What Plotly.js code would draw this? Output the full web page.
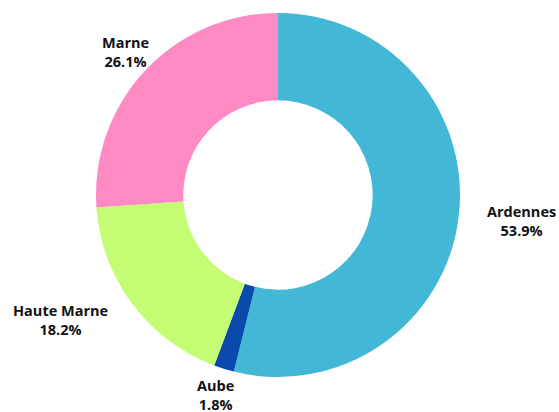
<!DOCTYPE html>
<html>
<head>
<meta charset="utf-8">
<script src="https://cdn.plot.ly/plotly-3.0.1.min.js"></script>
<style>html,body{margin:0;padding:0;background:#fff;}#chart{width:559px;height:412px;}</style>
</head>
<body>
<div id="chart"></div>
<script>
const labels = ["Ardennes", "Aube", "Haute Marne", "Marne"];
const values = [53.9, 1.8, 18.2, 26.1];
const colors = ["#42b7d6", "#0a4aad", "#c4fd74", "#fe8ac4"];

const W = 559, H = 412;
const M = {l: 0, r: 3, t: 13, b: 35};
const plotW = W - M.l - M.r, plotH = H - M.t - M.b;
const cx = M.l + plotW / 2, cy = M.t + plotH / 2;
const R = Math.min(plotW, plotH) / 2;
const labelR = R + 27;

const total = values.reduce((a, b) => a + b, 0);
let cum = 0;
const annotations = values.map((v, i) => {
  const mid = (cum + v / 2) / total * 2 * Math.PI;
  cum += v;
  const s = Math.sin(mid), c = Math.cos(mid);
  const px = cx + labelR * s;
  const py = cy - labelR * c;
  let xanchor = "center";
  if (Math.abs(s) >= 0.75) xanchor = s > 0 ? "left" : "right";
  return {
    xref: "paper", yref: "paper",
    x: (px - M.l) / plotW,
    y: 1 - (py - M.t) / plotH,
    xanchor: xanchor, yanchor: "middle",
    showarrow: false,
    align: "center",
    text: "<b>" + labels[i] + "</b><br><b>" + v.toFixed(1) + "%</b>",
    font: {family: "Open Sans", size: 14.5, color: "#111"}
  };
});

const trace = {
  type: "pie",
  labels: labels,
  values: values,
  hole: 0.52,
  sort: false,
  direction: "clockwise",
  rotation: 0,
  marker: {colors: colors, line: {width: 0}},
  textinfo: "none",
  hoverinfo: "none",
  showlegend: false
};

Plotly.newPlot("chart", [trace], {
  width: W, height: H,
  margin: Object.assign({autoexpand: false}, M),
  paper_bgcolor: "#fff",
  showlegend: false,
  annotations: annotations
}, {displayModeBar: false, staticPlot: true});
</script>
</body>
</html>
